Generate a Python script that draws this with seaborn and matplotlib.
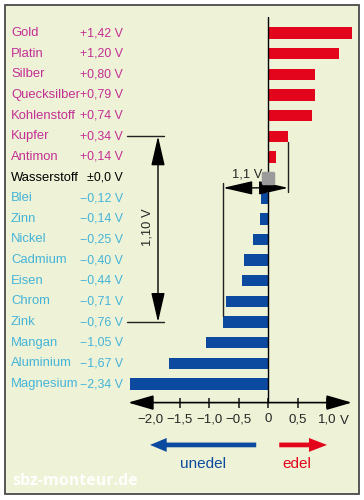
import matplotlib
matplotlib.use('Agg')
import matplotlib.pyplot as plt
import matplotlib.transforms as mtransforms
from matplotlib.markers import MarkerStyle
from matplotlib.patches import Rectangle
import pandas as pd
import seaborn as sns

# Elektrochemische Spannungsreihe
metals = ['Gold', 'Platin', 'Silber', 'Quecksilber', 'Kohlenstoff', 'Kupfer', 'Antimon',
          'Wasserstoff', 'Blei', 'Zinn', 'Nickel', 'Cadmium', 'Eisen', 'Chrom', 'Zink',
          'Mangan', 'Aluminium', 'Magnesium']
potentials = [1.42, 1.20, 0.80, 0.79, 0.74, 0.34, 0.14, 0.0, -0.12, -0.14, -0.25, -0.40,
              -0.44, -0.71, -0.76, -1.05, -1.67, -2.34]
tick_values = [-2.0, -1.5, -1.0, -0.5, 0, 0.5, 1.0]
tick_labels = ['−2,0', '−1,5', '−1,0', '−0,5', '0', '0,5', '1,0']

RED = '#e3051b'
BLUE = '#0b4a9e'
PINK = '#c42f95'
CYAN = '#45b4d9'
PANEL = '#eef2d6'


def fmt(v):
    if v == 0:
        return '±0,0 V'
    return ('+' if v > 0 else '−') + f'{abs(v):.2f}'.replace('.', ',') + ' V'


df = pd.DataFrame({'metal': metals, 'potential': potentials})
df['side'] = ['edel' if v > 0 else ('unedel' if v < 0 else 'null') for v in potentials]

sns.set_style('white')
plt.rcParams['font.family'] = ['Liberation Sans', 'DejaVu Sans']

fig = plt.figure(figsize=(3.64, 5.0), dpi=100)
fig.patches.append(Rectangle((5 / 364, 6 / 500), 354 / 364, 489 / 500, transform=fig.transFigure,
                             facecolor=PANEL, edgecolor='#4a4a4a', lw=1.3, zorder=-10))

ax = fig.add_axes([128.2 / 364, 97.4 / 500, 223.6 / 364, 385.7 / 500])
ax.patch.set_alpha(0)

sns.barplot(data=df, x='potential', y='metal', hue='side', order=metals,
            palette={'edel': RED, 'unedel': BLUE, 'null': 'black'},
            dodge=False, width=0.55, legend=False, errorbar=None,
            saturation=1, linewidth=0, ax=ax)

xmin, xmax = -2.37, 1.42
ybot, ytop = 17.9, -0.78
ax.set_xlim(xmin, xmax)
ax.set_ylim(ybot, ytop)
ax.set_xlabel('')
ax.set_ylabel('')
ax.set_yticks([])
sns.despine(ax=ax, left=True, bottom=True)

# zero line and axis with arrows
ax.axvline(0, color='black', lw=1, zorder=3)
ax.annotate('', xy=(xmin, ybot), xytext=(xmax, ybot),
            arrowprops=dict(arrowstyle='<|-|>,head_length=1.2,head_width=0.35', mutation_scale=13,
                            color='black', lw=1.2, shrinkA=0, shrinkB=0),
            annotation_clip=False)
ax.set_xticks(tick_values, tick_labels)
ax.tick_params(axis='x', direction='inout', length=7, width=1.2, pad=4, labelsize=9.5, bottom=True)
ax.text(1.3, 0.158, 'V', transform=mtransforms.blended_transform_factory(ax.transData, fig.transFigure),
        ha='center', va='center', fontsize=9.5)

# labels left
trans = mtransforms.blended_transform_factory(fig.transFigure, ax.transData)
for i, (name, v) in enumerate(zip(metals, potentials)):
    col = PINK if v > 0 else (CYAN if v < 0 else 'black')
    ax.text(11 / 364, i, name, transform=trans, ha='left', va='center', color=col, fontsize=9.4, clip_on=False)
    ax.text(123 / 364, i, fmt(v), transform=trans, ha='right', va='center', color=col, fontsize=8.9, clip_on=False)

# Kupfer-Zink 1,10 V
i_k = metals.index('Kupfer')
i_z = metals.index('Zink')
for i in (i_k, i_z):
    ax.plot([127 / 364, 164 / 364], [i, i], transform=trans, color='#222222', lw=1, clip_on=False)
ax.annotate('', xy=(158 / 364, i_k), xytext=(158 / 364, i_z), xycoords=trans, textcoords=trans,
            arrowprops=dict(arrowstyle='<|-|>,head_length=1.3,head_width=0.3', mutation_scale=14,
                            color='black', lw=1, shrinkA=0, shrinkB=0))
ax.text(147 / 364, 9.4, '1,10 V', transform=trans, rotation=90, ha='center', va='center', fontsize=9.3)

pk, pz = potentials[i_k], potentials[i_z]
ax.plot([pk, pk], [i_k + 0.27, 7.7], color='#222222', lw=1)
ax.plot([pz, pz], [7.25, i_z - 0.27], color='#222222', lw=1)
ax.annotate('', xy=(pz, 7.5), xytext=(pk, 7.5),
            arrowprops=dict(arrowstyle='<|-|>,head_length=1.3,head_width=0.3', mutation_scale=14,
                            color='black', lw=1, shrinkA=0, shrinkB=0))
ax.text(-0.36, 6.83, '1,1 V', ha='center', va='center', fontsize=9.3)

# Wasserstoff reference point
ax.plot(0, metals.index('Wasserstoff'), marker=MarkerStyle('s', joinstyle='round'), ms=7.5,
        mfc='#9b9b9b', mec='#9b9b9b', mew=2.5, zorder=5)

# unedel / edel arrows
ax.annotate('', xy=(-2.0, 19.95), xytext=(-0.2, 19.95),
            arrowprops=dict(width=3.4, headwidth=10, headlength=12, color=BLUE, lw=0),
            annotation_clip=False)
ax.annotate('', xy=(1.0, 19.95), xytext=(0.19, 19.95),
            arrowprops=dict(width=3.4, headwidth=10, headlength=13, color=RED, lw=0),
            annotation_clip=False)
ax.text(-1.1, 20.87, 'unedel', color=BLUE, fontsize=11, ha='center', va='center', clip_on=False)
ax.text(0.49, 20.87, 'edel', color=RED, fontsize=11, ha='center', va='center', clip_on=False)

fig.text(12 / 364, 19 / 500, 'sbz-monteur.de', fontsize=11.5, fontweight='bold', color='white',
         family='Open Sans', ha='left', va='center', alpha=0.95)

fig.savefig('out.png', dpi=100)
